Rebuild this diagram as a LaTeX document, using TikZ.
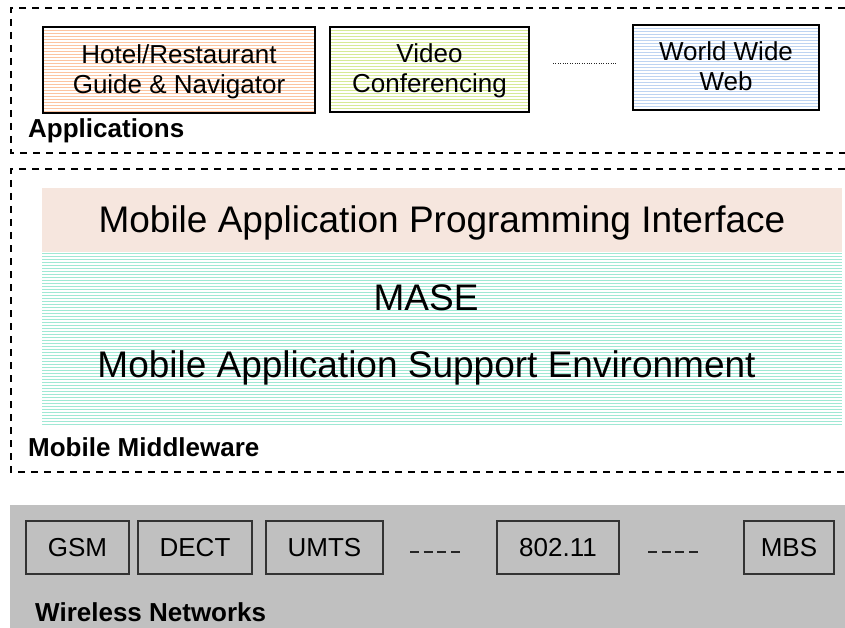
\documentclass[tikz,border=0pt]{standalone}
\usepackage{fontspec}
\setmainfont{Liberation Sans}
\definecolor{hotelc}{RGB}{252,196,160}
\definecolor{videoc}{RGB}{214,234,150}
\definecolor{wwwc}{RGB}{190,212,242}
\definecolor{masec}{RGB}{160,232,212}
\definecolor{apic}{RGB}{246,230,222}
\definecolor{netgray}{RGB}{192,192,192}
\begin{document}
\begin{tikzpicture}[x=1pt,y=-1pt,
  frame/.style={draw=black,line width=1.3pt,dash pattern=on 7pt off 6pt},
  stripes/.style={path picture={\foreach \k in {0,...,60}{\draw[#1,line width=1pt] ([yshift=-\k*3pt-1pt]path picture bounding box.north west) -- ([yshift=-\k*3pt-1pt]path picture bounding box.north east);}}},
  appbox/.style={draw=black,line width=1.6pt,align=center,inner sep=0pt,text height=52pt,text depth=5pt,font=\fontsize{26}{30}\selectfont},
  netbox/.style={draw=black!80,line width=1.3pt,inner sep=0pt,minimum height=53pt,font=\fontsize{26}{30}\selectfont},
  lab/.style={font=\bfseries\fontsize{26}{30}\selectfont,anchor=base west,inner sep=0pt},
  big/.style={font=\fontsize{37}{42}\selectfont,anchor=base,inner sep=0pt},
  band/.style={inner sep=0pt,anchor=north west,minimum width=800pt},
  gapdash/.style={black!85,line width=1.3pt,dash pattern=on 9pt off 4.7pt}
]
\useasboundingbox (0,0) rectangle (845,628);

% Applications layer
\draw[frame] (845,8) -- (11,8) -- (11,153) -- (845,153);
\node[appbox,stripes=hotelc,minimum width=272pt,minimum height=86pt] (hotel) at (179,70) {Hotel/Restaurant\\Guide \& Navigator};
\node[appbox,stripes=videoc,minimum width=199pt,minimum height=85pt] (video) at (429.5,69.5) {Video\\Conferencing};
\node[appbox,stripes=wwwc,minimum width=186pt,minimum height=85pt] (www) at (726,67.5) {World Wide\\Web};
\coordinate (dotA) at (553,63);
\coordinate (dotB) at (617,63);
\draw[black!85,line width=0.9pt,dash pattern=on 1pt off 1.4pt] (dotA) -- (dotB);
\node[lab] (applab) at (28,138) {Applications};

% Middleware layer
\draw[frame] (845,169) -- (11,169) -- (11,472) -- (845,472);
\node[band,fill=apic,minimum height=64pt] (api) at (42,188) {};
\node[band,stripes=masec,minimum height=173pt] (mase) at (42,252) {};
\node[big] (apitxt) at (442,233) {Mobile Application Programming Interface};
\node[big] (masetxt) at (426,310) {MASE};
\node[big] (masefull) at (426.5,377) {Mobile Application Support Environment};
\node[lab] (mmlab) at (28,456) {Mobile Middleware};

% Wireless networks layer
\node[inner sep=0pt,anchor=north west,fill=netgray,minimum width=835pt,minimum height=123pt] (wn) at (10,505) {};
\node[netbox,minimum width=103pt] (gsm) at (77.5,547.5) {GSM};
\node[netbox,minimum width=114pt] (dect) at (195,547.5) {DECT};
\node[netbox,minimum width=117pt] (umts) at (324.5,547.5) {UMTS};
\node[netbox,minimum width=122pt] (wlan) at (558,547.5) {802.11};
\node[netbox,minimum width=90pt] (mbs) at (789,547.5) {MBS};
\coordinate (dsA) at (410,552);
\coordinate (dsB) at (460,552);
\coordinate (dsC) at (648,552);
\coordinate (dsD) at (699,552);
\draw[gapdash] (dsA) -- (dsB);
\draw[gapdash] (dsC) -- (dsD);
\node[lab] (wnlab) at (35,621) {Wireless Networks};
\end{tikzpicture}
\end{document}
